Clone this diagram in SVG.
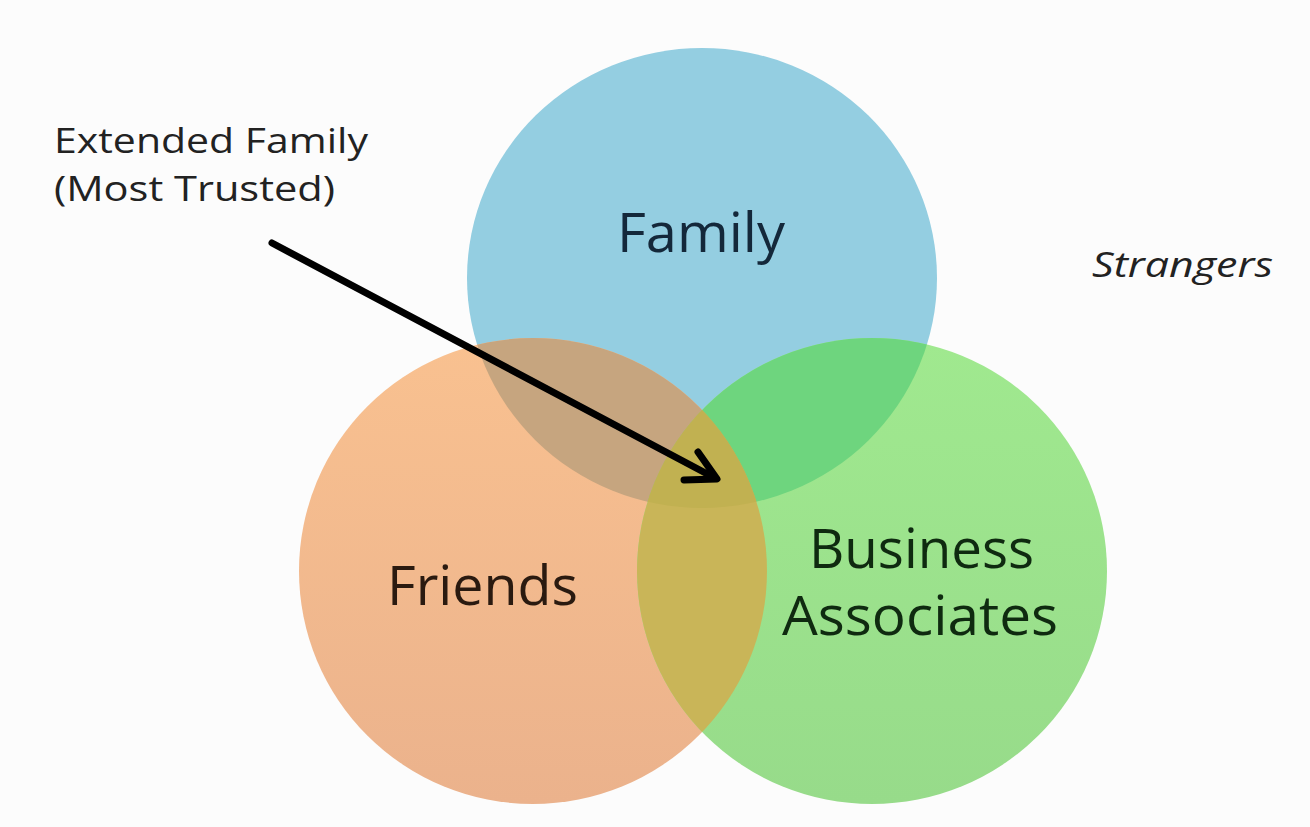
<svg xmlns="http://www.w3.org/2000/svg" width="1310" height="827" viewBox="0 0 1310 827">
<style>
.lbl{font-family:"Open Sans","Liberation Sans",sans-serif;}
.big{font-size:54px;}
.note{font-size:35px;fill:#222;}
</style>
<defs>
<clipPath id="cFam"><ellipse cx="702" cy="278" rx="235" ry="230"/></clipPath>
<clipPath id="cFri"><ellipse cx="533" cy="571" rx="234" ry="233"/></clipPath>
<clipPath id="cBus"><ellipse cx="872" cy="571" rx="235" ry="233"/></clipPath>
<linearGradient id="gFri" x1="0" y1="0" x2="0" y2="1"><stop offset="0" stop-color="#F9C190"/><stop offset="1" stop-color="#EBB28C"/></linearGradient>
<linearGradient id="gBus" x1="0" y1="0" x2="0" y2="1"><stop offset="0" stop-color="#A0E98F"/><stop offset="1" stop-color="#97DB8A"/></linearGradient>
</defs>
<rect width="1310" height="827" fill="#fcfcfc"/>
<g id="family"><ellipse cx="702" cy="278" rx="235" ry="230" fill="#94CEE1"/></g>
<g id="friends"><ellipse cx="533" cy="571" rx="234" ry="233" fill="url(#gFri)"/></g>
<g id="business"><ellipse cx="872" cy="571" rx="235" ry="233" fill="url(#gBus)"/></g>
<g id="overlaps">
<ellipse cx="702" cy="278" rx="235" ry="230" fill="#C6A57F" clip-path="url(#cFri)"/>
<ellipse cx="702" cy="278" rx="235" ry="230" fill="#6ED57E" clip-path="url(#cBus)"/>
<ellipse cx="533" cy="571" rx="234" ry="233" fill="#C9B558" clip-path="url(#cBus)"/>
<g clip-path="url(#cFam)"><ellipse cx="533" cy="571" rx="234" ry="233" fill="#C1B151" clip-path="url(#cBus)"/></g>
</g>
<g id="texts" class="lbl">
<text class="big" x="617" y="252" fill="#14283a" textLength="168" lengthAdjust="spacingAndGlyphs">Family</text>
<text class="big" x="387" y="605" fill="#2a1a10" textLength="191" lengthAdjust="spacingAndGlyphs">Friends</text>
<text class="big" x="809" y="568" font-size="50" fill="#0f2a10" textLength="225" lengthAdjust="spacingAndGlyphs">Business</text>
<text class="big" x="782" y="635" font-size="50" fill="#0f2a10" textLength="276" lengthAdjust="spacingAndGlyphs">Associates</text>
<text class="note" x="54" y="153" textLength="314" lengthAdjust="spacingAndGlyphs">Extended Family</text>
<text class="note" x="54" y="201" textLength="281" lengthAdjust="spacingAndGlyphs">(Most Trusted)</text>
<text x="1092" y="277" font-size="34" font-style="italic" fill="#222" textLength="181" lengthAdjust="spacingAndGlyphs">Strangers</text>
</g>
<g id="connectors" stroke="#000" stroke-width="7" stroke-linecap="round" stroke-linejoin="round" fill="none">
<line x1="272" y1="243" x2="713" y2="477"/>
<polyline points="698,452 717,479 684,480"/>
</g>
</svg>
